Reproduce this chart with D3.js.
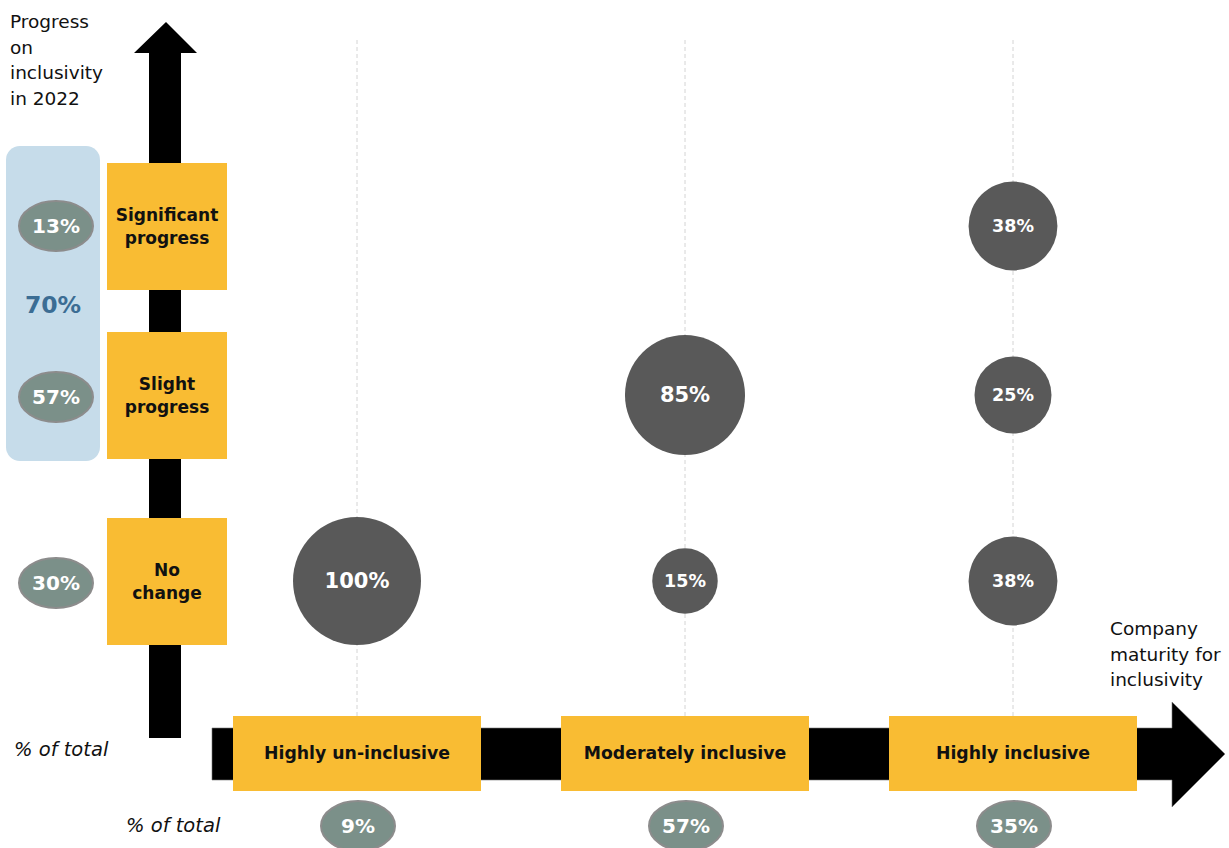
<!DOCTYPE html>
<html>
<head>
<meta charset="utf-8">
<script src="https://cdn.jsdelivr.net/npm/d3@7"></script>
<style>
  html, body { margin: 0; padding: 0; background: #ffffff; }
  svg { display: block; }
  text { font-family: "DejaVu Sans", sans-serif; }
</style>
</head>
<body>
<svg id="chart" width="1229" height="848"></svg>
<script>
// Progress categories (vertical axis, top to bottom) and their share of all companies
const progressLevels = ["Significant progress", "Slight progress", "No change"];
const progressShares = [13, 57, 30];
const progressCombined = 70; // significant + slight progress

// Maturity categories (horizontal axis) and their share of all companies
const maturityLevels = ["Highly un-inclusive", "Moderately inclusive", "Highly inclusive"];
const maturityShares = [9, 57, 35];

// Distribution of progress within each maturity group (same order as progressLevels)
const highlyUnInclusive = [0, 0, 100];
const moderatelyInclusive = [0, 85, 15];
const highlyInclusive = [38, 25, 38];

const seriesByMaturity = [highlyUnInclusive, moderatelyInclusive, highlyInclusive];

const cells = [];
maturityLevels.forEach((m, i) => {
  progressLevels.forEach((p, j) => {
    const v = seriesByMaturity[i][j];
    if (v > 0) cells.push({ maturity: m, progress: p, value: v });
  });
});

const YELLOW = "#f9bc33";
const BUBBLE = "#595959";
const PILL = "#7b9089";
const PILL_STROKE = "#8c8c8c";

const svg = d3.select("#chart");

// Scales
const x = d3.scalePoint().domain(maturityLevels).range([357, 1013]);
const y = d3.scaleOrdinal().domain(progressLevels).range([226, 395, 581]);
const r = d3.scaleSqrt().domain([0, 100]).range([13, 64]);

// Dashed guide lines for each maturity column
svg.append("g").selectAll("line")
  .data(maturityLevels)
  .join("line")
  .attr("x1", d => x(d)).attr("x2", d => x(d))
  .attr("y1", 40).attr("y2", 716)
  .attr("stroke", "#d4d4d4")
  .attr("stroke-width", 1)
  .attr("stroke-dasharray", "4,3");

// Vertical arrow (progress axis)
svg.append("path")
  .attr("d", "M149,738 L149,53 L134,53 L166,22 L197,53 L181,53 L181,738 Z")
  .attr("fill", "#000");

// Horizontal arrow (maturity axis)
svg.append("path")
  .attr("d", "M212,728 L1172,728 L1172,702 L1225,754 L1172,807 L1172,780 L212,780 Z")
  .attr("fill", "#000")
  .attr("stroke", "#777")
  .attr("stroke-width", 0.6);

// Light blue panel grouping the two "progress" rows
const y0 = y(progressLevels[0]), y1 = y(progressLevels[1]);
svg.append("rect")
  .attr("x", 6).attr("y", y0 - 80)
  .attr("width", 94).attr("height", (y1 + 66) - (y0 - 80))
  .attr("rx", 14)
  .attr("fill", "#c6dcea");

svg.append("text")
  .attr("x", 53).attr("y", (y0 + y1) / 2 - 6)
  .attr("text-anchor", "middle").attr("dominant-baseline", "central")
  .attr("font-size", 23.5).attr("font-weight", 700)
  .attr("fill", "#3b6d94")
  .text(progressCombined + "%");

// Yellow category boxes on the vertical axis
const vBox = svg.append("g").selectAll("g")
  .data(progressLevels)
  .join("g")
  .attr("transform", d => `translate(167,${y(d)})`);
vBox.append("rect")
  .attr("x", -60).attr("y", -63).attr("width", 120).attr("height", 127)
  .attr("fill", YELLOW);
const vLines = { "Significant progress": ["Significant", "progress"], "Slight progress": ["Slight", "progress"], "No change": ["No", "change"] };
vBox.append("text")
  .attr("text-anchor", "middle")
  .attr("font-size", 17).attr("font-weight", 700).attr("fill", "#111")
  .selectAll("tspan")
  .data(d => vLines[d])
  .join("tspan")
  .attr("x", 0)
  .attr("y", (d, i) => i === 0 ? -5 : 18)
  .text(d => d);

// Grey pills with each progress share
const leftPill = svg.append("g").selectAll("g")
  .data(progressLevels)
  .join("g")
  .attr("transform", d => `translate(56,${y(d) + (d === progressLevels[0] ? 0 : 2)})`);
leftPill.append("ellipse")
  .attr("rx", 37).attr("ry", 25)
  .attr("fill", PILL).attr("stroke", PILL_STROKE).attr("stroke-width", 2);
leftPill.append("text")
  .attr("text-anchor", "middle").attr("dominant-baseline", "central")
  .attr("font-size", 20).attr("font-weight", 700).attr("fill", "#fff")
  .text((d, i) => progressShares[i] + "%");

// Yellow category boxes on the horizontal axis
const hBox = svg.append("g").selectAll("g")
  .data(maturityLevels)
  .join("g")
  .attr("transform", d => `translate(${x(d)},753)`);
hBox.append("rect")
  .attr("x", -124).attr("y", -37).attr("width", 248).attr("height", 75)
  .attr("fill", YELLOW);
hBox.append("text")
  .attr("text-anchor", "middle").attr("dominant-baseline", "central")
  .attr("font-size", 17.3).attr("font-weight", 700).attr("fill", "#111")
  .text(d => d);

// Grey pills with each maturity share
const bottomPill = svg.append("g").selectAll("g")
  .data(maturityLevels)
  .join("g")
  .attr("transform", d => `translate(${x(d) + 1},826)`);
bottomPill.append("ellipse")
  .attr("rx", 37).attr("ry", 25)
  .attr("fill", PILL).attr("stroke", PILL_STROKE).attr("stroke-width", 2);
bottomPill.append("text")
  .attr("text-anchor", "middle").attr("dominant-baseline", "central")
  .attr("font-size", 20).attr("font-weight", 700).attr("fill", "#fff")
  .text((d, i) => maturityShares[i] + "%");

// Bubbles: share of each maturity group by progress level
const bubble = svg.append("g").selectAll("g")
  .data(cells)
  .join("g")
  .attr("transform", d => `translate(${x(d.maturity)},${y(d.progress)})`);
bubble.append("circle")
  .attr("r", d => r(d.value))
  .attr("fill", BUBBLE);
bubble.append("text")
  .attr("text-anchor", "middle").attr("dominant-baseline", "central")
  .attr("font-size", d => r(d.value) > 50 ? 21 : 17.5)
  .attr("font-weight", 700)
  .attr("fill", "#fff")
  .text(d => d.value + "%");

// Axis titles
svg.append("text")
  .attr("font-size", 18.5).attr("fill", "#111")
  .selectAll("tspan")
  .data(["Progress", "on", "inclusivity", "in 2022"])
  .join("tspan")
  .attr("x", 10)
  .attr("y", (d, i) => 28 + i * 25.5)
  .text(d => d);

svg.append("text")
  .attr("font-size", 18.5).attr("fill", "#111")
  .selectAll("tspan")
  .data(["Company", "maturity for", "inclusivity"])
  .join("tspan")
  .attr("x", 1110)
  .attr("y", (d, i) => 635 + i * 25.5)
  .text(d => d);

svg.append("text")
  .attr("x", 14).attr("y", 756)
  .attr("font-size", 19.5).attr("font-style", "italic").attr("fill", "#111")
  .text("% of total");

svg.append("text")
  .attr("x", 126).attr("y", 832)
  .attr("font-size", 19.5).attr("font-style", "italic").attr("fill", "#111")
  .text("% of total");
</script>
</body>
</html>
